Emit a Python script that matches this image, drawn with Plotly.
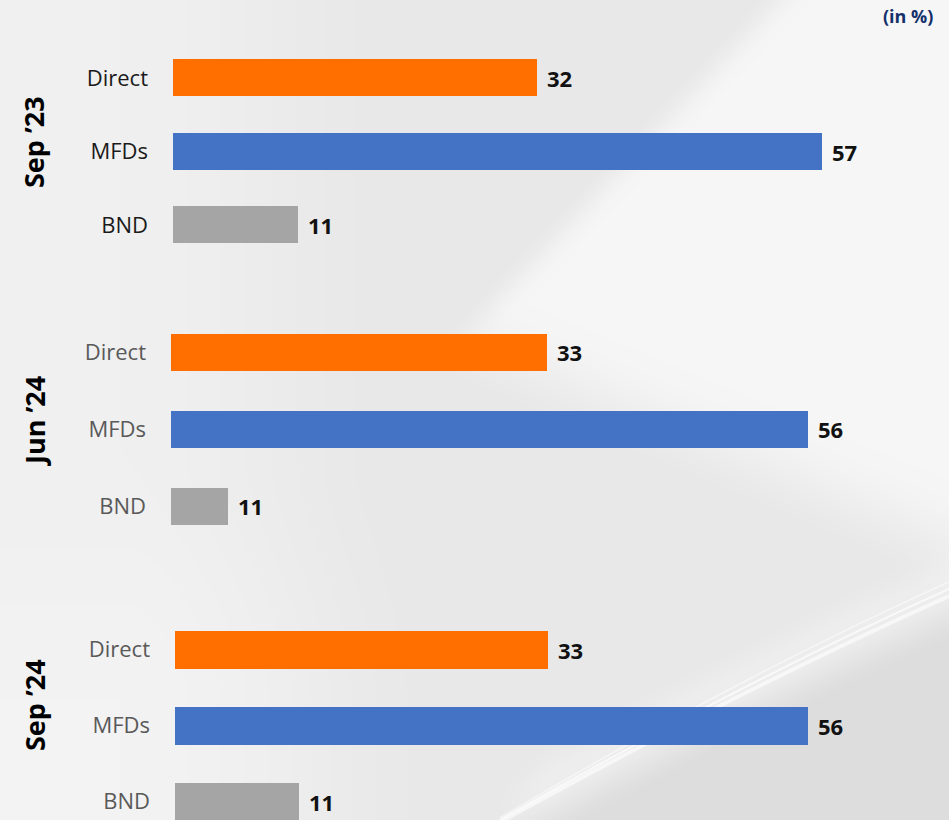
import base64
import struct
import zlib

import numpy as np
import plotly.graph_objects as go

W, H = 949, 820

# ---------------- data ----------------
categories = ["Direct", "MFDs", "BND"]
periods = ["Sep \u201923", "Jun \u201924", "Sep \u201924"]
# bar lengths as drawn in the reference (in %)
bar_values = [
    [32, 57, 11],
    [33, 56, 5],
    [33, 56, 11],
]
# data labels printed next to the bars
value_labels = [
    ["32", "57", "11"],
    ["33", "56", "11"],
    ["33", "56", "11"],
]
bar_colors = ["#FF6F00", "#4472C4", "#A6A5A5"]
tick_colors = ["#1A1A1A", "#595959", "#595959"]


# ---------------- layout helpers ----------------
def px(x):
    return x / W


def py(y):
    return 1 - y / H


# panel geometry (pixels): axis start x, px per unit, category centre, spacing,
# bar thickness (category units), centre of the rotated period label
panels = [
    dict(x0=173, scale=11.39, c0=78, step=73.5, bw=0.50, lab=142),
    dict(x0=171, scale=11.38, c0=352, step=77.0, bw=0.49, lab=421),
    dict(x0=175, scale=11.30, c0=649.5, step=76.0, bw=0.49, lab=705),
]

fig = go.Figure()
FONT = "Open Sans"

for i, (p, vals, labs) in enumerate(zip(panels, bar_values, value_labels)):
    n = "" if i == 0 else str(i + 1)
    xa, ya = "x" + n, "y" + n
    fig.add_trace(
        go.Bar(
            x=vals,
            y=[0, 1, 2],
            orientation="h",
            marker=dict(color=bar_colors, line=dict(width=0)),
            width=p["bw"],
            xaxis=xa,
            yaxis=ya,
            showlegend=False,
            hoverinfo="skip",
        )
    )
    for j, (v, t) in enumerate(zip(vals, labs)):
        fig.add_annotation(
            x=v, y=j, xref=xa, yref=ya, text="<b>%s</b>" % t,
            showarrow=False, xanchor="left", yanchor="middle", xshift=8,
            font=dict(family=FONT, size=22, color="#111111"),
        )
    top_px = p["c0"] - p["step"] / 2
    bot_px = min(H, p["c0"] + 2.5 * p["step"])
    y_bottom_val = -0.5 + (bot_px - top_px) / p["step"]
    xrange_max = (W - p["x0"]) / p["scale"]
    fig.layout["xaxis" + n] = dict(
        domain=[px(p["x0"]), 1], range=[0, xrange_max], anchor=ya,
        visible=False, fixedrange=True,
    )
    fig.layout["yaxis" + n] = dict(
        domain=[py(bot_px), py(top_px)], range=[y_bottom_val, -0.5], anchor=xa,
        tickmode="array", tickvals=[0, 1, 2], ticktext=categories,
        showgrid=False, zeroline=False, showline=False, ticks="",
        ticklabelstandoff=24,
        tickfont=dict(family=FONT, size=22, color=tick_colors[i]),
        fixedrange=True,
    )
    fig.add_annotation(
        x=px(34), y=py(p["lab"]), xref="paper", yref="paper",
        text="<b>%s</b>" % periods[i], textangle=-90, showarrow=False,
        xanchor="center", yanchor="middle",
        font=dict(family=FONT, size=27, color="#000000"),
    )

fig.add_annotation(
    x=px(935), y=py(16), xref="paper", yref="paper", text="<b>(in %)</b>",
    showarrow=False, xanchor="right", yanchor="middle",
    font=dict(family=FONT, size=18, color="#14306B"),
)

# ---------------- background (soft grey/white backdrop) ----------------
Y, X = np.mgrid[0:H, 0:W].astype(float)


def smooth(u):
    u = np.clip(u, 0, 1)
    return u * u * (3 - 2 * u)


L = np.full((H, W), 232.0)
L += 8 * smooth(1 - (X - 120) / 300)
L += 3 * smooth((Y - 450) / 250) * smooth(1 - (X - 250) / 250)
# bright wedge from top-right
xb = np.where(Y < 330, 760 - 0.94 * Y, 450 - 0.45 * (Y - 330))
d1 = X - xb
yl = 360 + (X - 470) * 200 / 479
d2 = yl - Y
L += 14 * smooth((d1 + 10) / 60) * smooth((d2 + 40) / 120)
# swoosh curve (quadratic bezier) and the darker corner beneath it
tt = np.linspace(0, 1, 400)
P0, P1, P2 = (500, 822), (740, 690), (949, 596)
bx = (1 - tt) ** 2 * P0[0] + 2 * (1 - tt) * tt * P1[0] + tt ** 2 * P2[0]
by = (1 - tt) ** 2 * P0[1] + 2 * (1 - tt) * tt * P1[1] + tt ** 2 * P2[1]
ys = np.interp(X, bx, by, left=2000, right=by[-1])
d3 = Y - ys
L -= 11 * smooth(d3 / 50) * (X > 420)
L += 6 * np.exp(-((d3 + 15) / 25) ** 2) * smooth((X - 480) / 80)
L = np.clip(L, 0, 255).astype(np.uint8)
rgb = np.stack([L, L, L], axis=-1)


def png_bytes(arr):
    h, w, _ = arr.shape
    raw = b"".join(b"\x00" + arr[r].tobytes() for r in range(h))

    def chunk(tag, data):
        c = struct.pack(">I", len(data)) + tag + data
        return c + struct.pack(">I", zlib.crc32(tag + data) & 0xFFFFFFFF)

    return (b"\x89PNG\r\n\x1a\n"
            + chunk(b"IHDR", struct.pack(">IIBBBBB", w, h, 8, 2, 0, 0, 0))
            + chunk(b"IDAT", zlib.compress(raw, 9))
            + chunk(b"IEND", b""))


bg_src = "data:image/png;base64," + base64.b64encode(png_bytes(rgb)).decode()

shapes = []
for off, wdt, op in [(0, 4, 0.6), (7, 2, 0.65), (14, 1.5, 0.5)]:
    shapes.append(dict(
        type="path",
        path="M %f,%f Q %f,%f %f,%f" % (px(P0[0]), py(P0[1] - off * 0.3), px(P1[0]), py(P1[1] - off),
                                         px(P2[0]), py(P2[1] - off)),
        line=dict(color="rgba(255,255,255,%s)" % op, width=wdt), layer="below",
        xref="paper", yref="paper"))

fig.update_layout(
    width=W, height=H,
    margin=dict(l=0, r=0, t=0, b=0),
    paper_bgcolor="#E9E9E9",
    plot_bgcolor="rgba(0,0,0,0)",
    shapes=shapes,
    images=[dict(source=bg_src, xref="paper", yref="paper", x=0, y=1, sizex=1, sizey=1,
                 sizing="stretch", xanchor="left", yanchor="top", layer="below")],
    bargap=0,
    showlegend=False,
)

fig.write_html(
    "out.html",
    config={"displayModeBar": False},
    post_script="document.body.style.margin='0';document.body.style.padding='0';document.body.style.overflow='hidden';",
)
